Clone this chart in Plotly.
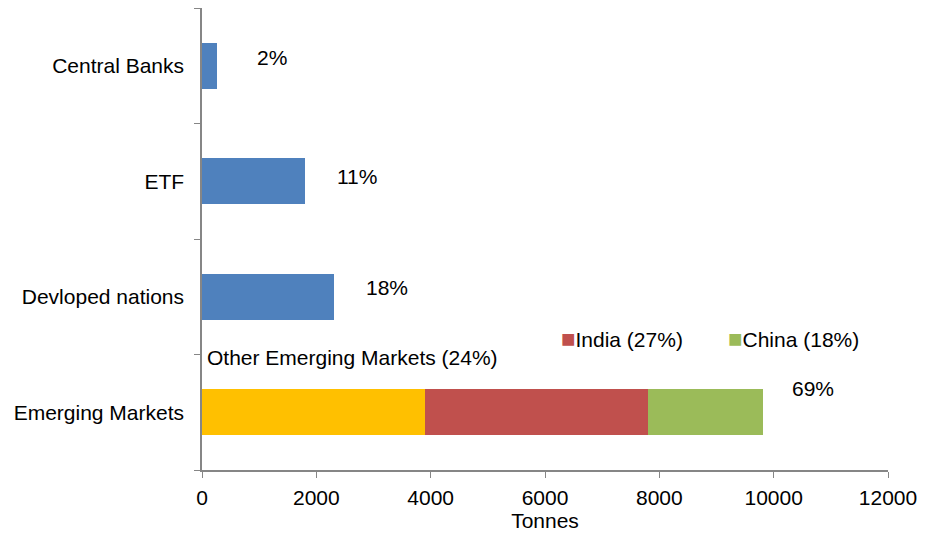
import plotly.graph_objects as go

categories = ["Central Banks", "ETF", "Devloped nations", "Emerging Markets"]
single_values = [260, 1800, 2310, None]
other_em = [None, None, None, 3900]
india = [None, None, None, 3900]
china = [None, None, None, 2020]
pct_labels = ["2%", "11%", "18%", "69%"]
totals = [260, 1800, 2310, 9820]
legend_names = ["Other Emerging Markets (24%)", "India (27%)", "China (18%)"]
x_ticks = [0, 2000, 4000, 6000, 8000, 10000, 12000]
x_tick_text = ["0", "2000", "4000", "6000", "8000", "10000", "12000"]

BLUE = "#4F81BD"
YELLOW = "#FFC000"
RED = "#C0504D"
GREEN = "#9BBB59"
FONT = "Liberation Sans, Arial, sans-serif"
FS = 21

fig = go.Figure()
fig.add_trace(go.Bar(y=categories, x=single_values, orientation="h",
                     marker=dict(color=BLUE, line=dict(width=0)), showlegend=False))
fig.add_trace(go.Bar(y=categories, x=other_em, orientation="h",
                     marker=dict(color=YELLOW, line=dict(width=0)), name=legend_names[0], showlegend=False))
fig.add_trace(go.Bar(y=categories, x=india, orientation="h",
                     marker=dict(color=RED, line=dict(width=0)), name=legend_names[1], showlegend=False))
fig.add_trace(go.Bar(y=categories, x=china, orientation="h",
                     marker=dict(color=GREEN, line=dict(width=0)), name=legend_names[2], showlegend=False))

yshifts = [8, 5, 9, 24]
xshifts = [38, 30, 30, 27]
for cat, tot, lab, ys, xs in zip(categories, totals, pct_labels, yshifts, xshifts):
    fig.add_annotation(x=tot, y=cat, text=lab, showarrow=False, xanchor="left",
                       xshift=xs, yshift=ys, font=dict(size=FS, color="#000000", family=FONT))

# legend-like labels
fig.add_annotation(x=55, y=categories[3], text=legend_names[0], showarrow=False,
                   xanchor="left", yshift=55, font=dict(size=FS, color="#000000", family=FONT))
fig.add_annotation(x=6250, y=categories[3],
                   text='<span style="color:%s;font-size:24px">■</span>%s' % (RED, legend_names[1]),
                   showarrow=False, xanchor="left", yshift=74,
                   font=dict(size=FS, color="#000000", family=FONT))
fig.add_annotation(x=9170, y=categories[3],
                   text='<span style="color:%s;font-size:24px">■</span>%s' % (GREEN, legend_names[2]),
                   showarrow=False, xanchor="left", yshift=74,
                   font=dict(size=FS, color="#000000", family=FONT))

fig.update_layout(
    width=926, height=527,
    margin=dict(l=194, r=46, t=0, b=65, autoexpand=False),
    barmode="stack", bargap=0.6,
    plot_bgcolor="white", paper_bgcolor="white",
    font=dict(family=FONT, size=FS, color="#000000"),
    xaxis=dict(range=[0, 12000], tickvals=x_ticks, ticktext=x_tick_text,
               showgrid=False, zeroline=False, automargin=False,
               showline=True, linecolor="#868686", linewidth=1.5,
               ticks="outside", ticklen=6, tickcolor="#868686", ticklabelstandoff=2,
               title=dict(text="Tonnes", standoff=4, font=dict(size=FS, family=FONT)),
               tickfont=dict(size=FS, family=FONT)),
    yaxis=dict(categoryorder="array", categoryarray=categories[::-1],
               range=[-0.5, 3.5], showgrid=False, zeroline=False, automargin=False,
               showline=True, linecolor="#868686", linewidth=1.5,
               ticks="outside", ticklen=6, tickcolor="#868686", tickson="boundaries",
               ticklabelstandoff=12,
               tickfont=dict(size=FS, family=FONT)),
)

fig.write_html("out.html")
